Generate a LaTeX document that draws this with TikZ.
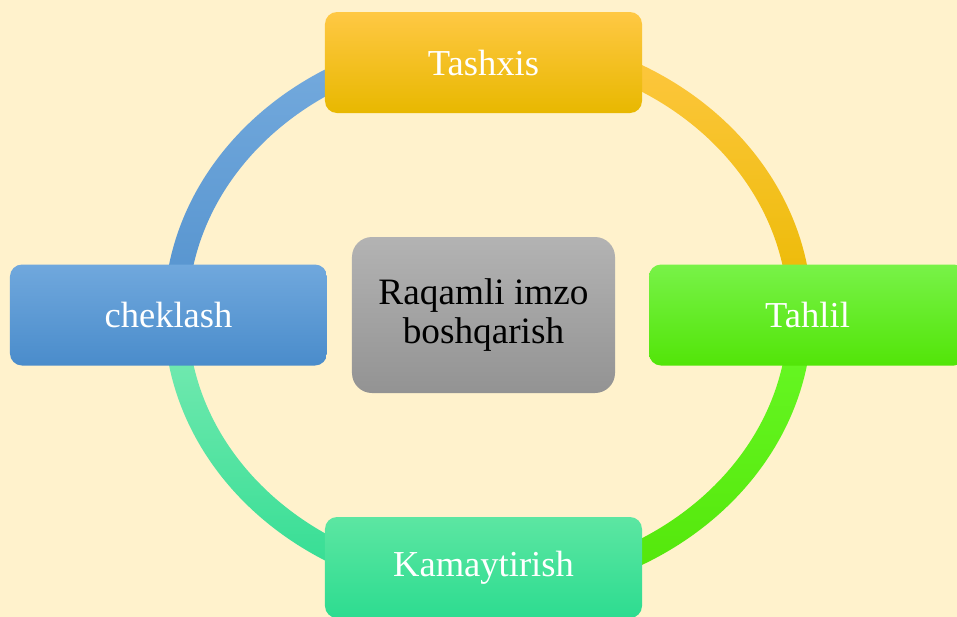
\documentclass[tikz,border=0pt]{standalone}
\usepackage{fontspec}
\setmainfont{Liberation Serif}
\usepackage{xcolor}
\usepackage{tikz}
\usetikzlibrary{positioning}

\definecolor{paper}{HTML}{FFF2CC}
\definecolor{goldA}{HTML}{FFC844}
\definecolor{goldB}{HTML}{FFC800}
\definecolor{goldC}{HTML}{E8B800}
\definecolor{skyA}{HTML}{70A8DD}
\definecolor{skyB}{HTML}{4A8CCB}
\definecolor{limeA}{HTML}{78F248}
\definecolor{limeB}{HTML}{66FA20}
\definecolor{limeC}{HTML}{52E508}
\definecolor{mintA}{HTML}{5CE6A2}
\definecolor{mintB}{HTML}{2DDC90}
\definecolor{greyA}{HTML}{B3B3B3}
\definecolor{greyB}{HTML}{939393}

\begin{document}
\begin{tikzpicture}
 [stage/.style={rectangle, rounded corners=0.24cm, minimum width=6.34cm,
                minimum height=2.02cm, inner sep=0pt, outer sep=0pt,
                text=white, font=\fontsize{20.8}{20}\selectfont},
  hub/.style={rectangle, rounded corners=0.4cm, minimum width=5.26cm,
              minimum height=3.12cm, inner sep=0pt, outer sep=0pt, align=center,
              top color=greyA, bottom color=greyB,
              font=\fontsize{21.2}{22.5}\selectfont},
  gold/.style={top color=goldA, middle color=goldB, bottom color=goldC},
  sky/.style={top color=skyA, bottom color=skyB},
  lime/.style={top color=limeA, middle color=limeB, bottom color=limeC},
  mint/.style={top color=mintA, bottom color=mintB}]
 \useasboundingbox (-9.67,-6.02) rectangle (9.47,6.3);
 \fill[paper] (-9.8,-6.2) rectangle (9.6,6.4);

 % ring behind the boxes
 \coordinate (ringc) at (0.09,0);
 \begin{scope}[shift={(ringc)}, even odd rule]
  \clip (0,0) ellipse [x radius=6.48, y radius=5.68]
        (0,0) ellipse [x radius=6.00, y radius=5.20];
  \shade[top color=skyA!95!white, bottom color=skyB!95!white] (-7,0) rectangle (0,5.7);
  \shade[top color=goldA, bottom color=goldC!90!goldB] (0,0) rectangle (7,5.7);
  \shade[top color=limeB!85!limeA, bottom color=limeC] (0,-5.7) rectangle (7,0);
  \shade[top color=mintA!80!white, bottom color=mintB] (-7,-5.7) rectangle (0,0);
 \end{scope}

 \node[hub]         (core)                       {Raqamli imzo\\boshqarish};
 \node[stage, gold] (tashxis)  [above=2.48 of core] {Tashxis};
 \node[stage, lime] (tahlil)   [right=0.68 of core] {Tahlil};
 \node[stage, mint] (kamay)    [below=2.48 of core] {Kamaytirish};
 \node[stage, sky]  (cheklash) [left=0.5 of core]   {cheklash};
\end{tikzpicture}
\end{document}
